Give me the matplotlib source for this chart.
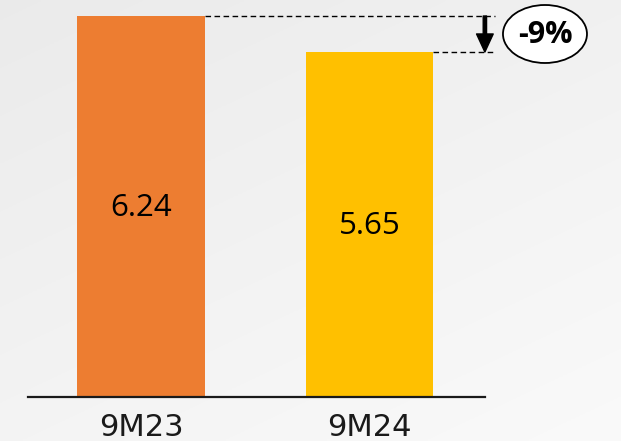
import numpy as np
import matplotlib
matplotlib.use("Agg")
import matplotlib.pyplot as plt
from matplotlib.patches import Ellipse

# Data
periods = ["9M23", "9M24"]
values = [6.24, 5.65]
bar_colors = ["#ED7D31", "#FFC000"]
change_label = "-9%"

fig = plt.figure(figsize=(6.21, 4.41), dpi=100)
ax = fig.add_axes([0, 0, 1, 1])
x0, x1 = -0.617, 2.1007
y0, y1 = -0.7206, 6.502
ax.set_xlim(x0, x1)
ax.set_ylim(y0, y1)
ax.axis("off")

# soft light-grey backdrop, a touch darker toward the top-left
gy, gx = np.mgrid[0:1:200j, 0:1:300j]
shade = 0.92 + 0.06 * (0.6 * gy + 0.4 * gx)
bg = np.dstack([shade, shade, shade])
ax.imshow(bg, extent=(x0, x1, y0, y1), origin="upper", aspect="auto", zorder=0)

xs = np.arange(len(periods))
ax.bar(xs, values, width=0.56, color=bar_colors, zorder=2)

# baseline
ax.plot([-0.4945, 1.505], [0, 0], color="#1a1a1a", lw=1.6, zorder=3)

for x, v, lab in zip(xs, values, periods):
    ax.text(x, v / 2 - 0.03, f"{v:.2f}", ha="center", va="center",
            fontsize=22.5, family="Open Sans", color="black", zorder=4)
    ax.text(x, -0.50, lab, ha="center", va="center",
            fontsize=22, family="DejaVu Sans", color="#1a1a1a", zorder=4)

# dashed guides from each bar top
xe = 1.549
ax.plot([xs[0] + 0.28, xe], [values[0], values[0]], color="black", lw=1,
        ls=(0, (4, 2.5)), zorder=3)
ax.plot([xs[1] + 0.28, xe], [values[1], values[1]], color="black", lw=1,
        ls=(0, (4, 2.5)), zorder=3)

# down arrow showing the change
ax.annotate("", xy=(1.505, values[1]), xytext=(1.505, values[0]),
            arrowprops=dict(facecolor="black", edgecolor="black", width=2.4,
                            headwidth=12, headlength=13, shrink=0),
            zorder=4)

# change badge
ax.add_patch(Ellipse((1.768, 6.502 - 34 / 61.06), width=84 / 228.5,
                     height=58 / 61.06, facecolor="white", edgecolor="black",
                     lw=1.3, zorder=4))
ax.text(1.768, 6.502 - 35 / 61.06, change_label, ha="center", va="center",
        fontsize=22, family="Open Sans", fontweight="bold", color="black",
        zorder=5)

fig.savefig("out.png", dpi=100)
